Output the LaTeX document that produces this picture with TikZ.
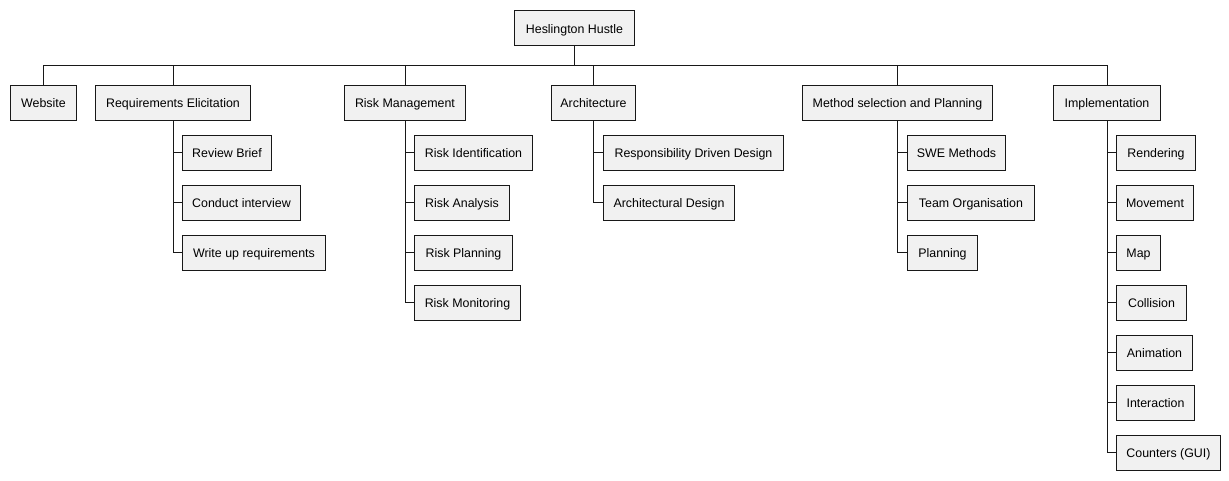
\documentclass[tikz,border=0pt]{standalone}
\usepackage{fontspec}
\setmainfont{Liberation Sans}
\definecolor{boxfill}{RGB}{241,241,241}
\definecolor{boxline}{RGB}{24,24,24}
\tikzset{
  wbs/.style={draw=boxline, fill=boxfill, line width=1pt, minimum height=35pt, inner sep=0pt, text height=12pt, text depth=1.5pt, anchor=west, font=\fontsize{12.4}{14}\selectfont},
  conn/.style={draw=boxline, line width=1pt}
}
\begin{document}
\begin{tikzpicture}[x=1pt,y=-1pt]
\useasboundingbox[fill=white] (0,0) rectangle (1229,480);
% root
\node[wbs, minimum width=120pt] (root) at (514,28) {Heslington Hustle};
% level 1
\node[wbs, minimum width=66pt] (web) at (10,102.5) {Website};
\node[wbs, minimum width=155pt] (req) at (95,102.5) {Requirements Elicitation};
\node[wbs, minimum width=121pt] (risk) at (344,102.5) {Risk Management};
\node[wbs, minimum width=84pt] (arch) at (551,102.5) {Architecture};
\node[wbs, minimum width=190pt] (meth) at (802,102.5) {Method selection and Planning};
\node[wbs, minimum width=107pt] (impl) at (1053,102.5) {Implementation};
% requirements children
\node[wbs, minimum width=89pt] (rb) at (182,152.5) {Review Brief};
\node[wbs, minimum width=118pt] (ci) at (182,202.5) {Conduct interview};
\node[wbs, minimum width=143pt] (wr) at (182,252.5) {Write up requirements};
% risk children
\node[wbs, minimum width=118pt] (ri) at (414,152.5) {Risk Identification};
\node[wbs, minimum width=95pt] (ra) at (414,202.5) {Risk Analysis};
\node[wbs, minimum width=98pt] (rp) at (414,252.5) {Risk Planning};
\node[wbs, minimum width=106pt] (rm) at (414,302.5) {Risk Monitoring};
% architecture children
\node[wbs, minimum width=180pt] (rdd) at (603,152.5) {Responsibility Driven Design};
\node[wbs, minimum width=131pt] (ad) at (603,202.5) {Architectural Design};
% method children
\node[wbs, minimum width=98pt] (swe) at (907,152.5) {SWE Methods};
\node[wbs, minimum width=127pt] (team) at (907,202.5) {Team Organisation};
\node[wbs, minimum width=70pt] (plan) at (907,252.5) {Planning};
% implementation children
\node[wbs, minimum width=79pt] (ren) at (1116,152.5) {Rendering};
\node[wbs, minimum width=77pt] (mov) at (1116,202.5) {Movement};
\node[wbs, minimum width=44pt] (map) at (1116,252.5) {Map};
\node[wbs, minimum width=70pt] (col) at (1116,302.5) {Collision};
\node[wbs, minimum width=76pt] (ani) at (1116,352.5) {Animation};
\node[wbs, minimum width=78pt] (int) at (1116,402.5) {Interaction};
\node[wbs, minimum width=104pt] (cnt) at (1116,452.5) {Counters (GUI)};
% bus
\coordinate (bus) at (0,65);
\draw[conn] (root.south) -- (root.south |- bus);
\draw[conn] (web.north |- bus) -- (impl.north |- bus);
\foreach \n in {web,req,risk,arch,meth,impl}
  \draw[conn] (\n.north) -- (\n.north |- bus);
% children connectors
\draw[conn] (req.south) |- (wr.west);
\foreach \c in {rb,ci} \draw[conn] (req.south |- \c.west) -- (\c.west);
\draw[conn] (risk.south) |- (rm.west);
\foreach \c in {ri,ra,rp} \draw[conn] (risk.south |- \c.west) -- (\c.west);
\draw[conn] (arch.south) |- (ad.west);
\foreach \c in {rdd} \draw[conn] (arch.south |- \c.west) -- (\c.west);
\draw[conn] (meth.south) |- (plan.west);
\foreach \c in {swe,team} \draw[conn] (meth.south |- \c.west) -- (\c.west);
\draw[conn] (impl.south) |- (cnt.west);
\foreach \c in {ren,mov,map,col,ani,int} \draw[conn] (impl.south |- \c.west) -- (\c.west);
\end{tikzpicture}
\end{document}
